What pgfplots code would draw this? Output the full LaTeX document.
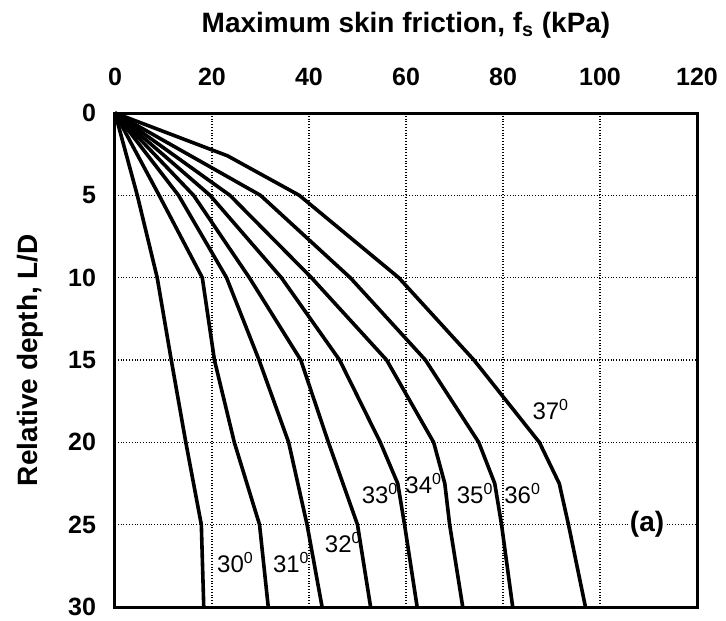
\documentclass[border=0pt]{standalone}
\usepackage{fontspec}
\setmainfont{Liberation Sans}
\usepackage{pgfplots}
\pgfplotsset{compat=1.18}
\pgfplotsset{curve/.style={black, solid, mark=none, line width=1.8pt, line join=round}}
\begin{document}
\begin{tikzpicture}
\begin{axis}[
  name=ax,
  scale only axis, width=291pt, height=247pt,
  xmin=0, xmax=120, ymin=0, ymax=30,
  y dir=reverse,
  xtick={0,20,...,120}, ytick={0,5,...,30},
  xticklabel pos=top,
  axis line style={line width=1.5pt},
  major tick length=0pt,
  grid=major,
  grid style={black, densely dotted, line width=0.6pt},
  /pgf/number format/assume math mode=true,
  ticklabel style={font=\bfseries\fontsize{12.5}{14}\selectfont},
  xticklabel style={yshift=10pt},
  yticklabel style={xshift=-6pt},
  xlabel={Maximum skin friction, f\textsubscript{s} (kPa)},
  xlabel style={font=\bfseries\fontsize{14}{16}\selectfont, at={(axis description cs:0.5,1)}, anchor=center, yshift=44pt},
  ylabel={Relative depth, L/D},
  ylabel style={font=\bfseries\fontsize{14}{16}\selectfont, at={(axis description cs:0,0.5)}, anchor=center, yshift=42.5pt},
  clip=false,
]
% 30 deg
\addplot[curve] coordinates {(0,0) (4.6,5) (8.7,10) (11.6,15) (14.6,20) (17.8,25) (18.3,30)};
% 31 deg
\addplot[curve] coordinates {(0,0) (9.1,5) (18.0,10) (20.5,15) (24.6,20) (29.8,25) (31.6,30)};
% 32 deg
\addplot[curve] coordinates {(0,0) (13.1,5) (23.0,10) (29.7,15) (35.8,20) (39.6,25) (42.7,30)};
% 33 deg
\addplot[curve] coordinates {(0,0) (16.2,5) (27.7,10) (38.3,15) (44.0,20) (50.0,25) (52.7,30)};
% 34 deg
\addplot[curve] coordinates {(0,0) (19.6,5) (34.3,10) (46.3,15) (54.7,20) (58.3,22.5) (59.7,25) (62.3,30)};
% 35 deg
\addplot[curve] coordinates {(0,0) (23.7,5) (40.5,10) (56.0,15) (65.7,20) (68.0,22.5) (69.0,25) (71.7,30)};
% 36 deg
\addplot[curve] coordinates {(0,0) (30.0,5) (48.5,10) (64.0,15) (75.0,20) (78.3,22.5) (79.7,25) (82.0,30)};
% 37 deg
\addplot[curve] coordinates {(0,0) (23.2,2.6) (38.0,5) (58.5,10) (74.0,15) (87.5,20) (91.6,22.5) (93.5,25) (97.0,30)};

\begin{scope}[every node/.style={font=\fontsize{12}{14}\selectfont, anchor=west, inner sep=0pt}]
\node at (axis cs:21,27.3) {30\textsuperscript{0}};
\node at (axis cs:32.5,27.3) {31\textsuperscript{0}};
\node at (axis cs:43.2,26.1) {32\textsuperscript{0}};
\node at (axis cs:50.8,23.1) {33\textsuperscript{0}};
\node at (axis cs:59.8,22.5) {34\textsuperscript{0}};
\node at (axis cs:70.4,23.1) {35\textsuperscript{0}};
\node at (axis cs:80.2,23.1) {36\textsuperscript{0}};
\node at (axis cs:86,18) {37\textsuperscript{0}};
\end{scope}
\node[font=\bfseries\fontsize{14}{16}\selectfont, fill=white, inner sep=1pt] at (axis cs:109.7,25) {(a)};
\end{axis}
\pgfresetboundingbox
\path ([shift={(-57.5pt,-6.5pt)}]ax.south west) rectangle ([shift={(14.5pt,56.5pt)}]ax.north east);
\end{tikzpicture}
\end{document}
